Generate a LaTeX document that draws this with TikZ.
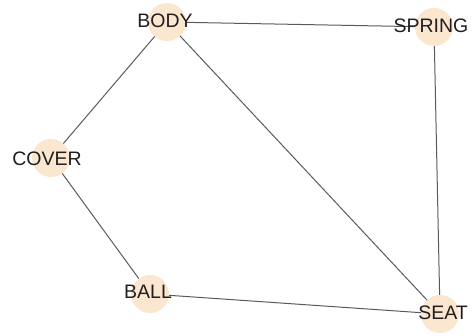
\documentclass[tikz,border=0pt]{standalone}
\usepackage{fontspec}
\setmainfont{Liberation Sans}
\usetikzlibrary{backgrounds}
\definecolor{peach}{HTML}{FBE6CF}
\definecolor{edgegray}{HTML}{5A5A5A}
\tikzset{
  vtx/.style={circle, fill=peach, draw=none, minimum size=38pt, inner sep=0pt},
  lbl/.style={font=\fontsize{19.5}{21}\selectfont, text=black!88, inner sep=0pt},
  edge/.style={draw=edgegray, line width=1pt}
}
\begin{document}
\begin{tikzpicture}[x=1pt,y=1pt]
\useasboundingbox (0,0) rectangle (473,336);
\node[vtx] (body) at (167,314) {};
\node[vtx] (spring) at (434,309) {};
\node[vtx] (cover) at (51,178) {};
\node[vtx] (ball) at (150,42) {};
\node[vtx] (seat) at (440,22) {};
\node[lbl] (tbody) at (165,315) {BODY};
\node[lbl] (tspring) at (431,310) {SPRING};
\node[lbl] (tcover) at (47,177) {COVER};
\node[lbl] (tball) at (148,44) {BALL};
\node[lbl] (tseat) at (443,23) {SEAT};
\begin{pgfonlayer}{background}
\draw[edge] (body.center) -- (spring.center);
\draw[edge] (body.center) -- (cover.center);
\draw[edge] (body.center) -- (seat.center);
\draw[edge] (spring.center) -- (seat.center);
\draw[edge] (cover.center) -- (ball.center);
\draw[edge] (ball.center) -- (seat.center);
\end{pgfonlayer}
\end{tikzpicture}
\end{document}
